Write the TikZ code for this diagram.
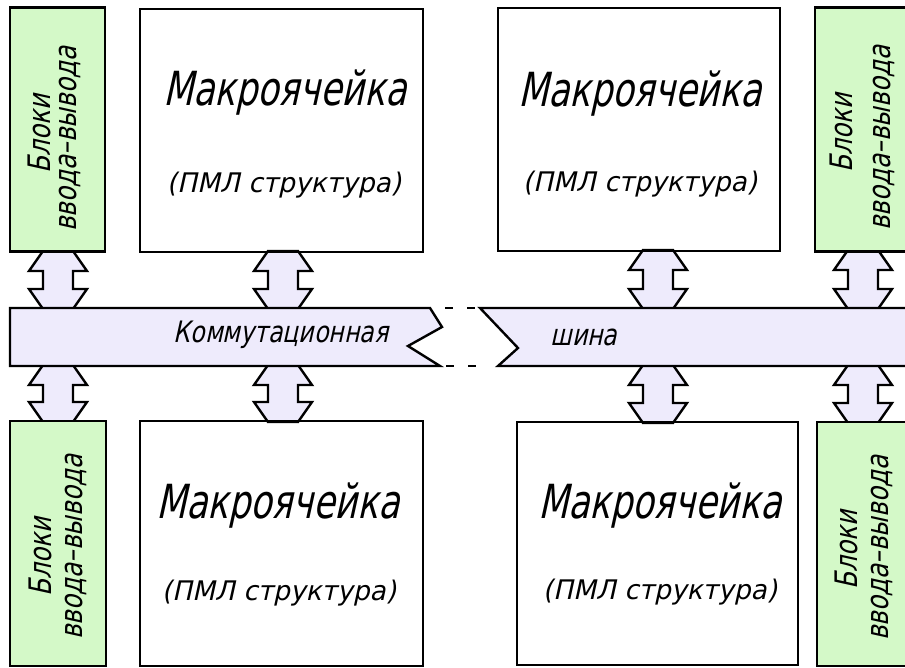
\documentclass[tikz,border=0pt]{standalone}
\usepackage{fontspec}
\newfontfamily\gost[FakeStretch=0.74,FakeSlant=0.22]{DejaVu Sans}
\newfontfamily\gostw[FakeStretch=0.98,FakeSlant=0.22]{DejaVu Sans}
\newfontfamily\gostm[FakeStretch=0.8,FakeSlant=0.22]{DejaVu Sans}
\definecolor{iogreen}{RGB}{212,249,200}
\definecolor{buslav}{RGB}{238,235,252}
\tikzset{
  box/.style={draw=black, line width=2.4pt, inner sep=0pt},
  gbox/.style={box, fill=iogreen, minimum width=95pt, minimum height=244pt},
  bigtxt/.style={font=\gost\fontsize{47}{50}\selectfont, inner sep=0pt},
  subtxt/.style={font=\gostw\fontsize{27}{30}\selectfont, inner sep=0pt},
  iotxt/.style={font=\gostm\fontsize{31}{34}\selectfont, inner sep=0pt, rotate=90},
  bustxt/.style={font=\gostm\fontsize{29.5}{32}\selectfont, inner sep=0pt},
  busfill/.style={fill=buslav, draw=black, line width=2.4pt, line join=miter},
  arr/.style={fill=buslav, draw=black, line width=2.4pt, line join=miter}
}
\newcommand\bidir[3]{% x, top y, bottom y
  \draw[arr] ({#1-15},#2) -- ({#1+15},#2) -- ({#1+29},{#2+20}) -- ({#1+15},{#2+20})
    -- ({#1+15},{#3-20}) -- ({#1+29},{#3-20}) -- ({#1+15},#3) -- ({#1-15},#3)
    -- ({#1-29},{#3-20}) -- ({#1-15},{#3-20}) -- ({#1-15},{#2+20}) -- ({#1-29},{#2+20}) -- cycle;}
\begin{document}
\begin{tikzpicture}[x=1pt,y=-1pt]
\useasboundingbox (0,0) rectangle (905,668);
\clip (0,0) rectangle (905,668);
\fill[white] (0,0) rectangle (905,668);
% arrows (drawn first, boxes cover their ends)
\bidir{58}{251}{309}
\bidir{283}{251}{309}
\bidir{658}{250}{309}
\bidir{863}{250}{309}
\bidir{58}{365}{422}
\bidir{283}{365}{422}
\bidir{658}{365}{423}
\bidir{863}{365}{423}
% bus
\draw[busfill] (10,308) -- (430,308) -- (442,327) -- (408,346) -- (440,366) -- (10,366) -- cycle;
\draw[busfill] (480,308) -- (518,348) -- (498,366) -- (920,366) -- (920,308) -- cycle;
\draw[line width=2.4pt, dash pattern=on 8pt off 14pt] (445,308) -- (480,308);
\draw[line width=2.4pt, dash pattern=on 8pt off 14pt] (446,366) -- (482,366);
\node[bustxt] (t1) at (281,335) {Коммутационная};
\node[bustxt] (t2) at (584,337) {шина};
% top row
\node[gbox] (g1) at (57.5,129.5) {};
\node[box, minimum width=283pt, minimum height=243pt] (m1) at (281.5,130.5) {};
\node[box, minimum width=282pt, minimum height=243pt] (m2) at (639,129.5) {};
\node[gbox] (g2) at (862.5,129.5) {};
% bottom row
\node[gbox, minimum width=96pt, minimum height=245pt] (g3) at (58,543.5) {};
\node[box, minimum width=283pt, minimum height=245pt] (m3) at (281.5,543.5) {};
\node[box, minimum width=281pt, minimum height=243pt] (m4) at (657.5,543.5) {};
\node[gbox, minimum height=244pt] (g4) at (864.5,544) {};
% macro texts
\node[bigtxt] (a1) at (285,93) {Макроячейка};
\node[subtxt] (b1) at (284,185) {(ПМЛ структура)};
\node[bigtxt] (a2) at (640,94) {Макроячейка};
\node[subtxt] (b2) at (640,184) {(ПМЛ структура)};
\node[bigtxt] (a3) at (278,506) {Макроячейка};
\node[subtxt] (b3) at (279,593) {(ПМЛ структура)};
\node[bigtxt] (a4) at (660,506) {Макроячейка};
\node[subtxt] (b4) at (660,592) {(ПМЛ структура)};
% io texts
\node[iotxt] (c1) at (39,134) {Блоки};
\node[iotxt] (d1) at (70,139) {ввода–вывода};
\node[iotxt] (c2) at (841,133) {Блоки};
\node[iotxt] (d2) at (884,138) {ввода–вывода};
\node[iotxt] (c3) at (40,557) {Блоки};
\node[iotxt] (d3) at (76,547) {ввода–вывода};
\node[iotxt] (c4) at (846,550) {Блоки};
\node[iotxt] (d4) at (882,548) {ввода–вывода};
\end{tikzpicture}
\end{document}
